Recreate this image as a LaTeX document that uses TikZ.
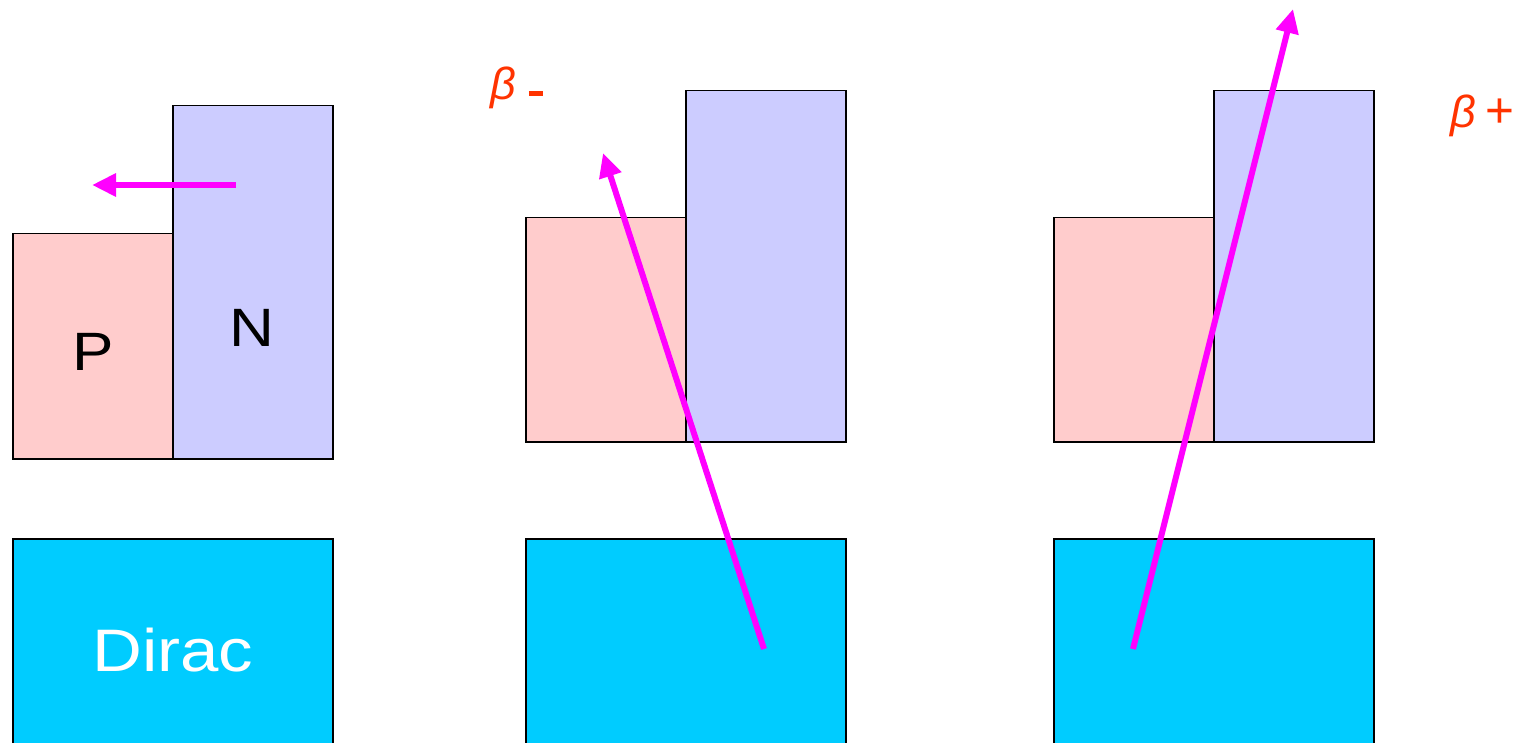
\documentclass[tikz,border=0pt]{standalone}
\usepackage{fontspec}
\setmainfont{Liberation Sans}
\usetikzlibrary{arrows.meta}
\definecolor{pfill}{HTML}{FFCCCC}
\definecolor{nfill}{HTML}{CCCCFF}
\definecolor{dfill}{HTML}{00CCFF}
\definecolor{arr}{HTML}{FF00FF}
\definecolor{lab}{HTML}{FF3300}
\newcommand{\wide}[1]{\scalebox{1.15}[1]{#1}}
\tikzset{
  box/.style={draw=black, line width=1.5pt, inner sep=0pt, anchor=north west},
  pbox/.style={box, fill=pfill, minimum width=160pt, minimum height=225pt},
  nbox/.style={box, fill=nfill, minimum width=160pt, minimum height=352pt},
  dbox/.style={box, fill=dfill, minimum width=320pt, minimum height=230pt},
  big/.style={font=\fontsize{54}{60}\selectfont},
  beta/.style={text=lab, font=\fontsize{45}{50}\selectfont, inner sep=0pt},
  ray/.style={draw=arr, line width=6pt, -{Triangle[length=24pt, width=22pt]}}
}
\begin{document}
\begin{tikzpicture}[x=1pt, y=-1pt]
\clip (0,0) rectangle (1522,743);
\fill[white] (0,0) rectangle (1522,743);
% panel 1
\node[pbox] (P1) at (12,233) {};
\node[nbox, minimum height=353pt] (N1) at (172,105) {};
\node[dbox] (D1) at (12,538) {};
\node[big] (tP) at (93,352) {\wide{P}};
\node[big] (tN) at (252,328) {\wide{N}};
\node[text=white, font=\fontsize{60}{66}\selectfont] (tD) at (173,650) {\wide{Dirac}};
\coordinate (a1s) at (236,185);
\coordinate (a1e) at (92,185);
\draw[ray] (a1s) -- (a1e);
% panel 2
\node[pbox, minimum height=224pt] (P2) at (525,217) {};
\node[nbox, minimum height=351pt] (N2) at (685,90) {};
\node[dbox] (D2) at (525,538) {};
\coordinate (a2s) at (764,649);
\coordinate (a2e) at (603,153);
\draw[ray] (a2s) -- (a2e);
\node[beta, anchor=west] (bm) at (490,88) {\textit{β}\hspace{13pt}\raisebox{4pt}{\rule{14pt}{4.5pt}}};
% panel 3
\node[pbox, minimum height=224pt] (P3) at (1053,217) {};
\node[nbox, minimum height=351pt] (N3) at (1213,90) {};
\node[dbox] (D3) at (1053,538) {};
\coordinate (a3s) at (1133,649);
\coordinate (a3e) at (1293,9);
\draw[ray] (a3s) -- (a3e);
\node[beta, anchor=west] (bp) at (1450,116) {\textit{β}\hspace{10pt}\scalebox{1.1}{+}};
\end{tikzpicture}
\end{document}
